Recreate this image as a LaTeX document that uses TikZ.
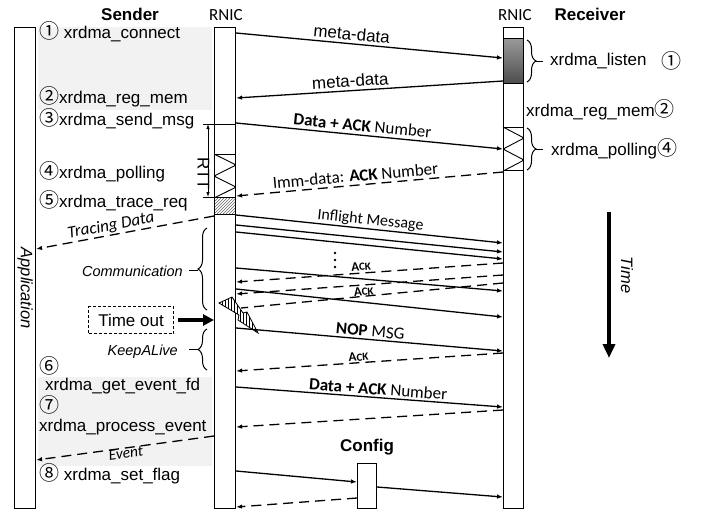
\documentclass[tikz,border=0pt]{standalone}
\usepackage{fontspec}
\setmainfont{Liberation Sans}
\newfontfamily\calfont{Carlito}
\newfontfamily\circfont{Noto Sans CJK SC}
\usetikzlibrary{arrows.meta,positioning,calc,decorations.pathreplacing,patterns}

\newcommand{\cnum}[1]{{\circfont\fontsize{20}{20}\selectfont #1}}
\newcommand{\ackword}{A{\fontsize{11}{13}\selectfont CK}}
\newcommand{\zigzag}[1]{\draw[zig] (#1.north west) -- ($(#1.north east)!.25!(#1.south east)$) -- ($(#1.north west)!.5!(#1.south west)$) -- ($(#1.north east)!.75!(#1.south east)$) -- (#1.south west);}

\tikzset{
	lifeline/.style={draw, fill=white, line width=1.1pt, inner sep=0pt, anchor=north west},
	msg/.style={line width=1.3pt, -{Latex[length=6pt,width=4.5pt]}},
	reply/.style={msg, dash pattern=on 10pt off 6pt},
	cal/.style={font=\calfont},
	calsm/.style={font=\calfont\fontsize{16}{19}\selectfont},
	ack/.style={font=\calfont\bfseries\fontsize{13}{15}\selectfont},
	ital/.style={font=\itshape\fontsize{14.5}{17}\selectfont},
	call/.style={anchor=west, inner sep=1pt},
	brc/.style={decorate, decoration={brace, amplitude=9pt}, line width=1pt},
	zig/.style={line width=0.9pt, rounded corners=2pt},
}

\begin{document}
\begin{tikzpicture}[x=1pt, y=-1pt]
	\fontsize{17}{20}\selectfont
	\useasboundingbox (0,0) rectangle (708,515);
	\fill[black!5] (38,27) rectangle (212,110);
	\fill[black!5] (38,377) rectangle (212,466);

	\node[lifeline, minimum width=21pt, minimum height=481pt] (app) at (14,27) {};
	\node[lifeline, minimum width=21pt, minimum height=481pt] (snic) at (214,27) {};
	\node[lifeline, minimum width=20pt, minimum height=481pt] (rnic) at (503,27) {};

	\node[font=\bfseries, inner sep=1pt] (sender) at (130,14) {Sender};
	\node[cal, inner sep=1pt] (snictitle) at (226,15) {RNIC};
	\node[cal, inner sep=1pt] (rnictitle) at (515,15) {RNIC};
	\node[font=\bfseries, inner sep=1pt] (receiver) at (590,14) {Receiver};
	\node[rotate=-90, font=\itshape\fontsize{16.5}{19}\selectfont] (apptitle) at (app.center |- 0,288) {Application};

	\node[call] (conn) at (38,32) {\cnum{①} xrdma\_connect};
	\node[call] (regl) at (38,97) {\cnum{②}xrdma\_reg\_mem};
	\node[call] (send) at (38,119) {\cnum{③}xrdma\_send\_msg};
	\node[call] (polll) at (38,172) {\cnum{④}xrdma\_polling};
	\node[call] (trace) at (38,201) {\cnum{⑤}xrdma\_trace\_req};
	\node[call] (n6) at (38,366) {\cnum{⑥}};
	\node[call] (evfd) at (44,386) {xrdma\_get\_event\_fd};
	\node[call] (n7) at (38,405) {\cnum{⑦}};
	\node[call] (proc) at (38,427) {xrdma\_process\_event};
	\node[call] (flag) at (38,474) {\cnum{⑧} xrdma\_set\_flag};

	\node[lifeline, minimum width=20pt, minimum height=45pt, top color=black!40, bottom color=black!70] (lst) at (503,38) {};
	\node[lifeline, minimum width=20pt, minimum height=43pt] (rpoll) at (503,127) {};
	\zigzag{rpoll}
	\node[lifeline, minimum width=21pt, minimum height=43pt] (spoll) at (214,154) {};
	\zigzag{spoll}
	\node[lifeline, minimum width=21pt, minimum height=17pt, pattern=north east lines, pattern color=black!60] (hatch) at (214,197) {};

	\draw[brc] (527,40) -- (527,82);
	\draw[line width=1pt] (536,61) -- (543,61);
	\node[call] (listen) at (549,61) {xrdma\_listen};
	\node (n1r) at (671,61) {\cnum{①}};
	\node[call] (regr) at (525,110) {xrdma\_reg\_mem\cnum{②}};
	\draw[brc] (527,128) -- (527,170);
	\draw[line width=1pt] (536,149) -- (543,149);
	\node[call] (pollr) at (550,149) {xrdma\_polling\cnum{④}};

	\coordinate (rtttop) at (208,124);
	\coordinate (rttbot) at (208,197);
	\draw[line width=.8pt] (203,124) -- (snic.east |- rtttop);
	\draw[line width=.8pt] (203,197) -- (hatch.north west);
	\draw[line width=.8pt, {Latex[length=5pt,width=3.5pt]}-{Latex[length=5pt,width=3.5pt]}] (rtttop) -- (rttbot);
	\node[rotate=-90, inner sep=0pt] (rtt) at (203.5,174) {RTT};

	\draw[msg] (snic.east |- 0,33) -- node[pos=.43, sloped, above, inner sep=3pt] {meta-data} (lst.west |- 0,58);
	\draw[msg] (lst.west |- 0,81) -- node[pos=.57, sloped, above, inner sep=3pt] {meta-data} (snic.east |- 0,98);
	\draw[msg] (snic.east |- 0,123) -- node[pos=.47, sloped, above, inner sep=3pt, cal] {\textbf{Data + ACK} Number} (rpoll.west |- 0,149);
	\draw[reply] (rnic.west |- 0,172) -- node[pos=.55, sloped, above, inner sep=3pt, cal] {Imm-data: \textbf{ACK} Number} (spoll.east |- 0,196);
	\draw[reply] (snic.west |- 0,216) -- node[pos=.57, sloped, above, inner sep=1pt, font=\calfont\itshape] {Tracing Data} (app.east |- 0,249);

	\draw[msg] (snic.east |- 0,215) -- node[pos=.5, sloped, above, inner sep=1pt, calsm] {Inflight Message} (rnic.west |- 0,243);
	\draw[msg] (snic.east |- 0,225) -- (rnic.west |- 0,252);
	\draw[msg] (snic.east |- 0,232) -- (rnic.west |- 0,259);
	\foreach \y in {253,260,267}
		\fill (335,\y) circle[radius=1.3pt];
	\draw[reply] (rnic.west |- 0,263) -- node[pos=.53, sloped, above, inner sep=2pt, ack] {\ackword} (snic.east |- 0,282);
	\draw[msg] (snic.east |- 0,268) -- (rnic.west |- 0,291);
	\draw[reply] (rnic.west |- 0,275) -- (snic.east |- 0,294);
	\draw[msg] (snic.east |- 0,289) -- (rnic.west |- 0,317);
	\coordinate (lost) at (241,308);
	\draw[reply, -] (rnic.west |- 0,283) -- node[pos=.53, sloped, above, inner sep=0pt, ack] {\ackword} (lost);
	\draw[line width=.8pt, preaction={fill=white}, pattern=vertical lines] (219,303) -- (232,297) -- (243,313) -- (247,312) -- (258,333) -- (238,320) -- (239,315) -- cycle;

	\node[draw, line width=.8pt, dash pattern=on 3pt off 2pt, minimum width=85pt, minimum height=27pt] (tout) at (131,320) {Time out};
	\draw[line width=3.5pt, -{Triangle[length=11pt,width=11pt]}] ([xshift=4pt]tout.east) -- (snic.west |- tout.east);

	\draw[brc] (207,310) -- (207,228);
	\draw[line width=1pt] (198,270) -- (189,270);
	\node[anchor=east, ital, inner sep=0pt] (comm) at (183,271) {Communication};
	\draw[brc] (207,370) -- (207,329);
	\draw[line width=1pt] (198,349) -- (189,349);
	\node[anchor=east, ital, inner sep=0pt] (kalive) at (178,352) {KeepALive};

	\draw[msg] (snic.east |- 0,328) -- node[pos=.5, sloped, above, inner sep=2pt, cal] {\textbf{NOP} MSG} (rnic.west |- 0,351);
	\draw[reply] (rnic.west |- 0,353) -- node[pos=.54, sloped, above, inner sep=1pt, ack] {\ackword} (snic.east |- 0,371);
	\draw[msg] (snic.east |- 0,387) -- node[pos=.53, sloped, above, inner sep=2pt, cal] {\textbf{Data + ACK} Number} (rnic.west |- 0,407);
	\draw[reply] (rnic.west |- 0,410) -- (snic.east |- 0,427);
	\draw[reply] (snic.west |- 0,436) -- node[pos=.5, sloped, below, inner sep=0pt, font=\calfont\itshape\fontsize{15.5}{18}\selectfont] {Event} (app.east |- 0,460);

	\node[lifeline, minimum width=19pt, minimum height=45pt] (cfg) at (357,463) {};
	\node[font=\bfseries, above=2pt of cfg] (cfgtitle) {Config};
	\draw[msg] (snic.east |- 0,471) -- (cfg.west |- 0,482);
	\draw[msg] (cfg.east |- 0,487) -- (rnic.west |- 0,497);
	\draw[reply] (cfg.west |- 0,498) -- (snic.east |- 0,507);

	\coordinate (tstart) at (609,212);
	\coordinate (tend) at (609,358);
	\draw[line width=4pt, -{Triangle[length=14pt,width=12pt]}] (tstart) -- (tend);
	\node[rotate=-90, font=\itshape\fontsize{16.5}{19}\selectfont] (time) at (627,275) {Time};
\end{tikzpicture}
\end{document}
